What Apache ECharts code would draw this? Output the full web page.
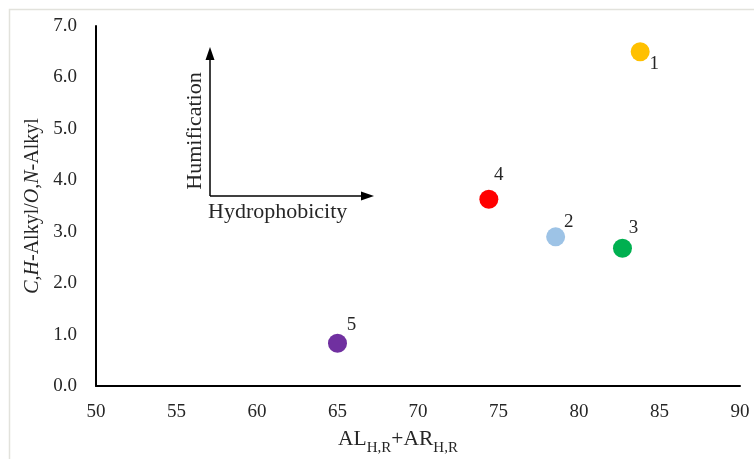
<!DOCTYPE html>
<html>
<head>
<meta charset="utf-8">
<script src="https://cdn.jsdelivr.net/npm/echarts@6/dist/echarts.min.js"></script>
<style>html,body{margin:0;padding:0;background:#fff;}#c{width:754px;height:459px;}</style>
</head>
<body>
<div id="c"></div>
<script>
// Data
var pointLabels = ['1', '2', '3', '4', '5'];
var xValues = [83.8, 78.55, 82.7, 74.4, 65.0];
var yValues = [6.5, 2.90, 2.68, 3.63, 0.83];
var xTicks = [50, 55, 60, 65, 70, 75, 80, 85, 90];
var yTicks = [0, 1, 2, 3, 4, 5, 6, 7];

// Styles
var colors = ['#FFC000', '#9DC3E6', '#00B050', '#FF0000', '#7030A0'];
var labelOffsets = [[14, 12], [13, -15], [11, -20], [10, -24], [14, -18]];
var FONT = '"Liberation Serif", "Times New Roman", serif';
var TXT = '#262626';

var chart = echarts.init(document.getElementById('c'), null, {renderer: 'canvas'});

var data = pointLabels.map(function (n, i) {
  return {
    name: n,
    value: [xValues[i], yValues[i]],
    itemStyle: {color: colors[i], opacity: 1},
    label: {offset: labelOffsets[i]}
  };
});

chart.setOption({
  animation: false,
  backgroundColor: '#fff',
  grid: {left: 96, right: 14, top: 26, bottom: 73, containLabel: false, outerBoundsMode: 'none'},
  xAxis: {
    type: 'value', min: xTicks[0], max: xTicks[xTicks.length - 1], interval: 5,
    axisLine: {show: true, onZero: false, lineStyle: {color: '#000', width: 2}},
    axisTick: {show: false},
    splitLine: {show: false},
    axisLabel: {fontFamily: FONT, fontSize: 19, color: TXT, margin: 17},
    name: '{m|AL}{s|H,R}{m|+AR}{s|H,R}',
    nameLocation: 'middle',
    nameGap: 40,
    nameTextStyle: {
      padding: [0, 40, 0, 0],
      rich: {
        m: {fontFamily: FONT, fontSize: 21.5, color: TXT, verticalAlign: 'bottom', lineHeight: 24},
        s: {fontFamily: FONT, fontSize: 15, color: TXT, verticalAlign: 'bottom', lineHeight: 24, padding: [0, 0, -6, 0]}
      }
    }
  },
  yAxis: {
    type: 'value', min: yTicks[0], max: yTicks[yTicks.length - 1], interval: 1,
    axisLine: {show: true, onZero: false, lineStyle: {color: '#000', width: 2}},
    axisTick: {show: false},
    splitLine: {show: false},
    axisLabel: {fontFamily: FONT, fontSize: 19, color: TXT, margin: 19,
      formatter: function (v) { return v.toFixed(1); }},
    name: '{i|C,H}{n|-Alkyl/}{i|O,N}{n|-Alkyl}',
    nameLocation: 'middle',
    nameGap: 51,
    nameRotate: 90,
    nameTextStyle: {
      rich: {
        i: {fontFamily: FONT, fontSize: 20, fontStyle: 'italic', color: TXT},
        n: {fontFamily: FONT, fontSize: 20, color: TXT}
      }
    }
  },
  series: [{
    type: 'scatter',
    symbol: 'circle',
    symbolSize: 19,
    data: data,
    label: {
      show: true,
      position: 'inside',
      formatter: '{b}',
      fontFamily: FONT,
      fontSize: 19,
      color: TXT
    }
  }],
  graphic: [
    {type: 'rect', shape: {x: 9.5, y: 9.5, width: 760, height: 470}, style: {fill: 'none', stroke: '#e2e2dc', lineWidth: 1.5}, silent: true},
    {type: 'line', shape: {x1: 210, y1: 196, x2: 210, y2: 58}, style: {stroke: '#000', lineWidth: 1.5}},
    {type: 'polygon', shape: {points: [[210, 47], [205.5, 60], [214.5, 60]]}, style: {fill: '#000'}},
    {type: 'line', shape: {x1: 210, y1: 196, x2: 362, y2: 196}, style: {stroke: '#000', lineWidth: 1.5}},
    {type: 'polygon', shape: {points: [[374, 196], [361, 191.5], [361, 200.5]]}, style: {fill: '#000'}},
    {type: 'text', x: 195, y: 131, rotation: Math.PI / 2,
      style: {text: 'Humification', fontFamily: FONT, fontSize: 22, fill: TXT, textAlign: 'center', textVerticalAlign: 'middle'}},
    {type: 'text', x: 208, y: 212,
      style: {text: 'Hydrophobicity', fontFamily: FONT, fontSize: 22, fill: TXT, textAlign: 'left', textVerticalAlign: 'middle'}}
  ]
});
</script>
</body>
</html>
